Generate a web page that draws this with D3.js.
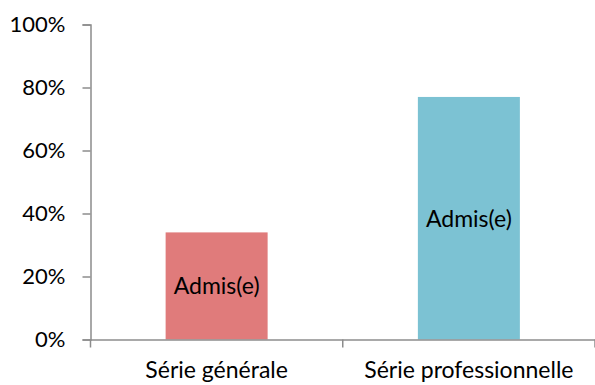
<!DOCTYPE html>
<html><head><meta charset="utf-8">
<script src="https://cdn.jsdelivr.net/npm/d3@7"></script>
<style>
html,body{margin:0;padding:0;background:#fff;}
svg{display:block;font-family:"Lato","Open Sans",sans-serif;}
</style></head>
<body><svg id="chart" width="595" height="385"></svg>
<script>
const categories = ["Série générale", "Série professionnelle"];
const values = [0.34, 0.77];
const barLabels = ["Admis(e)", "Admis(e)"];
const barColors = ["#e07b7b", "#7cc2d3"];
const yTicks = [0, 0.2, 0.4, 0.6, 0.8, 1.0];

const svg = d3.select("#chart");
const plotLeft = 90.5, plotRight = 595, plotTop = 24.5, plotBottom = 339.5;
const axisColor = "#8c8c8c";
const fontStack = "Lato, 'Open Sans', sans-serif";

const x = d3.scaleBand().domain(categories).range([plotLeft, plotRight]).paddingInner(0).paddingOuter(0);
const y = d3.scaleLinear().domain([0, 1]).range([plotBottom, plotTop]);
const barW = 102;

// bars
svg.selectAll("rect.bar").data(values).enter().append("rect")
  .attr("class", "bar")
  .attr("x", (d, i) => x(categories[i]) + x.bandwidth() / 2 - barW / 2)
  .attr("y", d => y(d))
  .attr("width", barW)
  .attr("height", d => y(0) - y(d))
  .attr("fill", (d, i) => barColors[i]);

// labels inside bars
svg.selectAll("text.lbl").data(values).enter().append("text")
  .attr("class", "lbl")
  .attr("x", (d, i) => x(categories[i]) + x.bandwidth() / 2)
  .attr("y", d => (y(d) + y(0)) / 2)
  .attr("dy", "0.36em")
  .attr("text-anchor", "middle")
  .attr("font-size", 23)
  .attr("fill", "#000")
  .text((d, i) => barLabels[i]);

// y axis
const yAxis = d3.axisLeft(y).tickValues(yTicks).tickFormat(d3.format(".0%")).tickSizeOuter(0).tickSize(8).tickPadding(17);
const gy = svg.append("g").attr("transform", `translate(${plotLeft},0)`).call(yAxis);
gy.select(".domain").attr("stroke", axisColor).attr("stroke-width", 1.5);
gy.selectAll(".tick line").attr("stroke", axisColor).attr("stroke-width", 1.5);
gy.selectAll(".tick text").attr("font-size", 22).attr("fill", "#000").attr("font-family", fontStack);

// x axis
const xAxis = d3.axisBottom(x).tickSize(0).tickPadding(22);
const gx = svg.append("g").attr("transform", `translate(0,${plotBottom})`).call(xAxis);
gx.select(".domain").attr("stroke", axisColor).attr("stroke-width", 1.5);
gx.selectAll(".tick text").attr("font-size", 23).attr("fill", "#000").attr("font-family", fontStack);

// category separator ticks
const sep = [plotLeft, x(categories[1]), plotRight];
gx.selectAll("line.sep").data(sep).enter().append("line")
  .attr("class", "sep")
  .attr("x1", d => d).attr("x2", d => d)
  .attr("y1", 0).attr("y2", 8)
  .attr("stroke", axisColor).attr("stroke-width", 1.5);
</script>
</body></html>
